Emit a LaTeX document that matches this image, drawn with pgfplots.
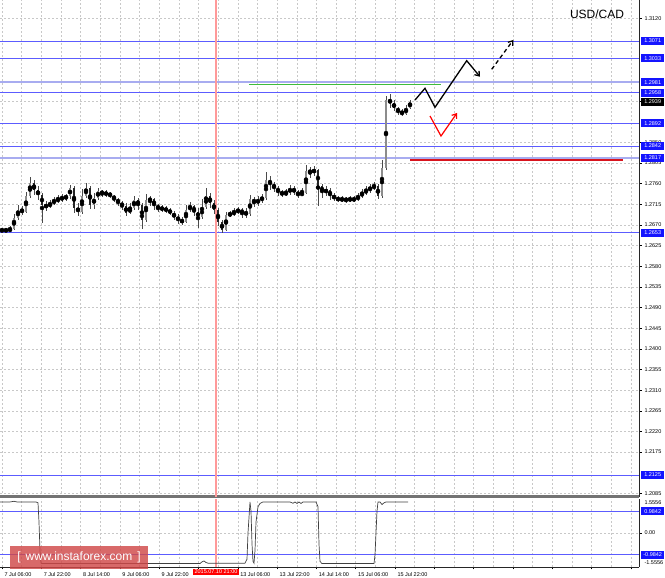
\documentclass[border=0pt]{standalone}
\usepackage{pgfplots}
\pgfplotsset{compat=1.18}
\usepackage{pgfplotstable}
\usepackage{fontspec}
\setmainfont{Liberation Sans}
\usetikzlibrary{arrows.meta}

\definecolor{lvl}{HTML}{5C5CFF}
\definecolor{lvllight}{HTML}{A8ACF0}
\definecolor{boxblue}{HTML}{1414FF}
\definecolor{gridc}{HTML}{C8C8C8}
\definecolor{upc}{HTML}{8C8C8C}
\definecolor{dnc}{HTML}{262626}
\definecolor{wickc}{HTML}{4A4A4A}
\definecolor{vred}{HTML}{FF9A9A}
\definecolor{lgreen}{HTML}{3DBB3D}
\definecolor{lred}{HTML}{D8141E}
\definecolor{wm}{HTML}{D04848}

\pgfplotstableread{
x o h l c
2 1.26568 1.26634 1.26546 1.26590
6 1.26590 1.26634 1.26546 1.26568
10 1.26568 1.26677 1.26546 1.26612
14 1.26612 1.26939 1.26590 1.26852
18 1.26852 1.27135 1.26808 1.27026
22 1.27026 1.27113 1.26917 1.26982
26 1.26982 1.27418 1.26961 1.27331
30 1.27331 1.27745 1.27288 1.27615
34 1.27615 1.27680 1.27353 1.27462
38 1.27462 1.27549 1.27244 1.27353
42 1.27353 1.27397 1.26743 1.27135
46 1.27135 1.27222 1.27004 1.27091
50 1.27091 1.27244 1.27070 1.27179
54 1.27179 1.27309 1.27135 1.27222
58 1.27222 1.27353 1.27179 1.27266
62 1.27266 1.27375 1.27200 1.27288
66 1.27288 1.27375 1.27222 1.27331
70 1.27331 1.27571 1.27266 1.27506
74 1.27506 1.27549 1.26961 1.27070
78 1.27070 1.27179 1.26895 1.26982
82 1.26982 1.27484 1.26939 1.27331
86 1.27331 1.27615 1.27288 1.27506
90 1.27506 1.27549 1.27048 1.27135
94 1.27135 1.27397 1.27048 1.27288
98 1.27288 1.27506 1.27244 1.27440
102 1.27440 1.27462 1.27309 1.27375
106 1.27375 1.27462 1.27309 1.27397
110 1.27397 1.27418 1.27288 1.27331
114 1.27331 1.27353 1.27200 1.27266
118 1.27266 1.27288 1.27113 1.27179
122 1.27179 1.27222 1.27026 1.27113
126 1.27113 1.27179 1.26895 1.26961
130 1.26961 1.27179 1.26939 1.27070
134 1.27070 1.27331 1.27026 1.27244
138 1.27244 1.27288 1.27026 1.27135
142 1.27135 1.27179 1.26612 1.26808
146 1.26808 1.27375 1.26764 1.27244
150 1.27244 1.27331 1.27113 1.27266
154 1.27266 1.27288 1.27026 1.27113
158 1.27113 1.27157 1.26982 1.27070
162 1.27070 1.27135 1.26982 1.27048
166 1.27048 1.27113 1.26961 1.27026
170 1.27026 1.27070 1.26917 1.26961
174 1.26961 1.27004 1.26808 1.26873
178 1.26873 1.26939 1.26721 1.26808
182 1.26808 1.26873 1.26699 1.26764
186 1.26764 1.27135 1.26743 1.27026
190 1.27026 1.27200 1.26982 1.27113
194 1.27113 1.27135 1.26895 1.26982
198 1.26982 1.27070 1.26634 1.26873
202 1.26873 1.27266 1.26830 1.27091
206 1.27091 1.27506 1.27048 1.27331
210 1.27331 1.27397 1.27070 1.27179
214 1.27179 1.27244 1.26939 1.27026
218 1.27026 1.27070 1.26677 1.26764
222 1.26764 1.26808 1.26530 1.26590
226 1.26590 1.26982 1.26568 1.26917
230 1.26917 1.27004 1.26873 1.26939
234 1.26939 1.27070 1.26895 1.26982
238 1.26982 1.27091 1.26939 1.27026
242 1.27026 1.27070 1.26852 1.26961
246 1.26961 1.27070 1.26852 1.26939
250 1.26939 1.27353 1.26895 1.27266
254 1.27266 1.27309 1.27091 1.27179
258 1.27179 1.27331 1.27113 1.27244
262 1.27244 1.27375 1.27179 1.27288
266 1.27288 1.27854 1.27244 1.27680
270 1.27680 1.27767 1.27462 1.27593
274 1.27593 1.27636 1.27418 1.27506
278 1.27506 1.27549 1.27331 1.27418
282 1.27418 1.27462 1.27309 1.27375
286 1.27375 1.27484 1.27331 1.27397
290 1.27397 1.27571 1.27353 1.27506
294 1.27506 1.27549 1.27353 1.27418
298 1.27418 1.27462 1.27288 1.27353
302 1.27353 1.27506 1.27331 1.27397
306 1.27397 1.28007 1.27375 1.27876
310 1.27876 1.27963 1.27724 1.27854
314 1.27854 1.27985 1.27767 1.27898
318 1.27898 1.27920 1.27113 1.27549
322 1.27549 1.27593 1.27288 1.27418
326 1.27418 1.27549 1.27331 1.27462
330 1.27462 1.27506 1.27244 1.27331
334 1.27331 1.27397 1.27222 1.27288
338 1.27288 1.27331 1.27200 1.27244
342 1.27244 1.27331 1.27200 1.27266
346 1.27266 1.27309 1.27179 1.27244
350 1.27244 1.27331 1.27200 1.27266
354 1.27266 1.27331 1.27200 1.27244
358 1.27244 1.27397 1.27222 1.27331
362 1.27331 1.27484 1.27288 1.27397
366 1.27397 1.27549 1.27353 1.27462
370 1.27462 1.27593 1.27397 1.27506
374 1.27506 1.27636 1.27462 1.27549
378 1.27549 1.27593 1.27266 1.27331
382 1.27331 1.28116 1.27288 1.27942
386 1.27942 1.29511 1.27898 1.29424
390 1.29424 1.29555 1.29250 1.29359
394 1.29359 1.29424 1.29184 1.29250
398 1.29250 1.29271 1.29097 1.29162
402 1.29162 1.29228 1.29075 1.29119
406 1.29119 1.29315 1.29097 1.29250
410 1.29250 1.29424 1.29228 1.29380
}\candles

\pgfplotstableread{
x v
0 1.42
10 1.42
14 1.45
17 1.42
36 1.42
38 1.38
39 0.5
40 -0.8
41 -1.38
42 -1.40
100 -1.40
200 -1.40
202 -1.32
204 -1.28
206 -1.35
208 -1.38
245 -1.38
247 -1.2
248 0
250 1.42
251 1.0
252 -0.5
253 -1.3
254 -1.38
255 -0.8
256 0.5
258 1.2
260 1.35
263 1.42
290 1.42
293 1.36
295 1.42
297 1.35
299 1.42
301 1.35
303 1.42
316 1.42
318 1.2
319 -0.5
320 -1.3
322 -1.40
374 -1.40
375 -1.0
376 0
377 1.0
378 1.42
380 1.42
382 1.30
384 1.38
386 1.42
408 1.42
}\osc

\newcommand{\lblfont}{\fontsize{5.5}{6}\selectfont}
\tikzset{
  lvlbox/.style={fill=boxblue, text=white, font=\lblfont, anchor=west, inner xsep=0.5pt, inner ysep=0.8pt, minimum width=23pt, minimum height=8pt, xshift=2pt},
  blkbox/.style={lvlbox, fill=black}
}

\begin{document}
\begin{tikzpicture}[x=1pt,y=1pt]
\path (0pt,0pt) rectangle (665pt,578pt);
\begin{axis}[
  name=main,
  at={(0pt,81pt)}, anchor=south west,
  scale only axis, width=639pt, height=497pt,
  xmin=0, xmax=639, ymin=1.20771, ymax=1.31604,
  axis x line*=bottom, axis y line*=right,
  x axis line style={-, line width=3pt, color=black!55},
  y axis line style={-, line width=0.8pt, color=black!85},
  xtick={2,21.65,...,631}, xticklabels={},
  xtick style={draw=none},
  ytick={1.2085,1.2175,1.2220,1.2265,1.2310,1.2355,1.2400,1.2445,1.2490,1.2535,1.2580,1.2625,1.2670,1.2715,1.2760,1.2805,1.2850,1.2940,1.3120},
  yticklabels={1.2085,1.2175,1.2220,1.2265,1.2310,1.2355,1.2400,1.2445,1.2490,1.2535,1.2580,1.2625,1.2670,1.2715,1.2760,1.2805,1.2850,,1.3120},
  ytick style={black, line width=0.5pt},
  tick align=outside, major tick length=2.5pt,
  yticklabel style={font=\lblfont, anchor=west, xshift=-0.5pt},
  grid=major,
  major grid style={gridc, dash pattern=on 2pt off 2pt, line width=0.5pt},
  clip=false,
]
% level lines
\addplot[lvl, line width=1pt] coordinates {(0,1.3071) (639,1.3071)};
\addplot[lvl, line width=1pt] coordinates {(0,1.3033) (639,1.3033)};
\addplot[lvllight, line width=2pt] coordinates {(0,1.2981) (639,1.2981)};
\addplot[lvl, line width=1pt] coordinates {(0,1.2958) (639,1.2958)};
\addplot[lvl, line width=1pt] coordinates {(0,1.2892) (639,1.2892)};
\addplot[lvl, line width=1pt] coordinates {(0,1.2842) (639,1.2842)};
\addplot[lvllight, line width=2pt] coordinates {(0,1.2817) (639,1.2817)};
\addplot[lvl, line width=1pt] coordinates {(0,1.2653) (639,1.2653)};
\addplot[lvl, line width=1pt] coordinates {(0,1.2125) (639,1.2125)};
% red vertical
\addplot[vred, line width=1.6pt] coordinates {(216,1.20771) (216,1.31604)};
% wicks
\addplot[only marks, mark=none, error bars/.cd, y dir=both, y explicit, error mark=none,
  error bar style={wickc, line width=0.6pt}]
  table[x=x, y expr={(\thisrow{h}+\thisrow{l})/2}, y error expr={(\thisrow{h}-\thisrow{l})/2}] {\candles};
% up bodies
\addplot[only marks, mark=none, restrict expr to domain={\thisrow{c}-\thisrow{o}}{0:1},
  error bars/.cd, y dir=both, y explicit, error mark=none,
  error bar style={upc, line width=2.2pt}]
  table[x=x, y expr={(\thisrow{o}+\thisrow{c})/2}, y error expr={abs(\thisrow{c}-\thisrow{o})/2}] {\candles};
% down bodies
\addplot[only marks, mark=none, restrict expr to domain={\thisrow{c}-\thisrow{o}}{-1:0},
  error bars/.cd, y dir=both, y explicit, error mark=none,
  error bar style={dnc, line width=2.2pt}]
  table[x=x, y expr={(\thisrow{o}+\thisrow{c})/2}, y error expr={abs(\thisrow{c}-\thisrow{o})/2}] {\candles};
% green and red horizontal segments
\addplot[lgreen, line width=1.4pt] coordinates {(249,1.29762) (441,1.29762)};
\addplot[lred, line width=2.6pt] coordinates {(410,1.28120) (623,1.28120)};
% forecast arrows
\addplot[black, line width=1.3pt, -{Straight Barb[length=4pt,width=6pt]}] coordinates {(415,1.29424) (425,1.29679) (435,1.29265) (466.7,1.30281) (480,1.29932)};
\addplot[black, line width=1.3pt, dash pattern=on 4pt off 3pt, -{Straight Barb[length=4pt,width=6pt]}] coordinates {(491.7,1.30093) (513.3,1.30732)};
\addplot[red, line width=1.2pt, -{Straight Barb[length=4pt,width=6pt]}] coordinates {(430,1.29075) (441,1.28639) (457,1.29141)};
% title
\node[font=\fontsize{12}{12}\selectfont, anchor=center] at (axis cs:597,1.31299) {USD/CAD};
% coordinates for boxed labels
\coordinate (b1) at (axis cs:639,1.3071);
\coordinate (b2) at (axis cs:639,1.3033);
\coordinate (b3) at (axis cs:639,1.2981);
\coordinate (b4) at (axis cs:639,1.2958);
\coordinate (b5) at (axis cs:639,1.2939);
\coordinate (b6) at (axis cs:639,1.2892);
\coordinate (b7) at (axis cs:639,1.2842);
\coordinate (b8) at (axis cs:639,1.2817);
\coordinate (b9) at (axis cs:639,1.2653);
\coordinate (b10) at (axis cs:639,1.2125);
\end{axis}

\begin{axis}[
  at={(0pt,11pt)}, anchor=south west,
  scale only axis, width=639pt, height=68pt,
  xmin=0, xmax=639, ymin=-1.5556, ymax=1.5556,
  axis x line*=bottom, axis y line*=right,
  x axis line style={-, line width=0.8pt, color=black!85},
  y axis line style={-, line width=0.8pt, color=black!85},
  xtick={2,41.3,...,631},
  xticklabels={7 Jul 06:00,7 Jul 22:00,8 Jul 14:00,9 Jul 06:00,9 Jul 22:00,,13 Jul 06:00,13 Jul 22:00,14 Jul 14:00,15 Jul 06:00,15 Jul 22:00,,,,,,},
  minor xtick={21.65,60.95,...,612},
  xticklabel style={font=\lblfont, anchor=north west, xshift=-1pt, yshift=0.5pt},
  ytick={0}, yticklabels={0.00},
  yticklabel style={font=\lblfont, anchor=west, xshift=-0.5pt},
  tick align=outside, major tick length=2.5pt, minor tick length=0pt,
  tick style={black, line width=0.5pt},
  xmajorgrids, xminorgrids, ymajorgrids,
  major grid style={gridc, dash pattern=on 2pt off 2pt, line width=0.5pt},
  minor grid style={gridc, dash pattern=on 2pt off 2pt, line width=0.5pt},
  clip=false,
]
\addplot[lvl, line width=1pt] coordinates {(0,0.9842) (639,0.9842)};
\addplot[lvl, line width=1pt] coordinates {(0,-0.9842) (639,-0.9842)};
\addplot[vred, line width=1.6pt] coordinates {(216,-1.5556) (216,1.5556)};
\addplot[black!75, line width=0.7pt] table[x=x, y=v] {\osc};
\coordinate (o1) at (axis cs:639,0.9842);
\coordinate (o2) at (axis cs:639,-0.9842);
\coordinate (o3) at (axis cs:639,1.5556);
\coordinate (o4) at (axis cs:639,-1.5556);
\coordinate (dt) at (axis cs:216,-1.5556);
\end{axis}

% boxed labels on top
\node[lvlbox] at (b1) {1.3071};
\node[lvlbox] at (b2) {1.3033};
\node[lvlbox] at (b3) {1.2981};
\node[lvlbox] at (b4) {1.2958};
\node[blkbox] at (b5) {1.2939};
\node[lvlbox] at (b6) {1.2892};
\node[lvlbox] at (b7) {1.2842};
\node[lvlbox] at (b8) {1.2817};
\node[lvlbox] at (b9) {1.2653};
\node[lvlbox] at (b10) {1.2125};
\node[lvlbox] at (o1) {0.9842};
\node[lvlbox] at (o2) {-0.9842};
\node[font=\lblfont, anchor=west, xshift=2pt, yshift=-4pt] at (o3) {1.5556};
\node[font=\lblfont, anchor=west, xshift=2pt, yshift=4pt] at (o4) {-1.5556};
\node[fill=red, text=white, font=\lblfont, anchor=north, inner xsep=2pt, inner ysep=1pt, yshift=-1.5pt] at (dt) {2015.07.10 21:00};
% watermark
\node[fill=wm, fill opacity=0.82, text opacity=1, text=white, minimum width=138pt, minimum height=23pt, inner sep=0pt, font=\fontsize{12}{12}\selectfont] at (79pt,20.5pt) {[\hspace{5pt}www.instaforex.com\hspace{5pt}]};
\pgfresetboundingbox
\useasboundingbox (0pt,0pt) rectangle (665pt,578pt);
\end{tikzpicture}
\end{document}
